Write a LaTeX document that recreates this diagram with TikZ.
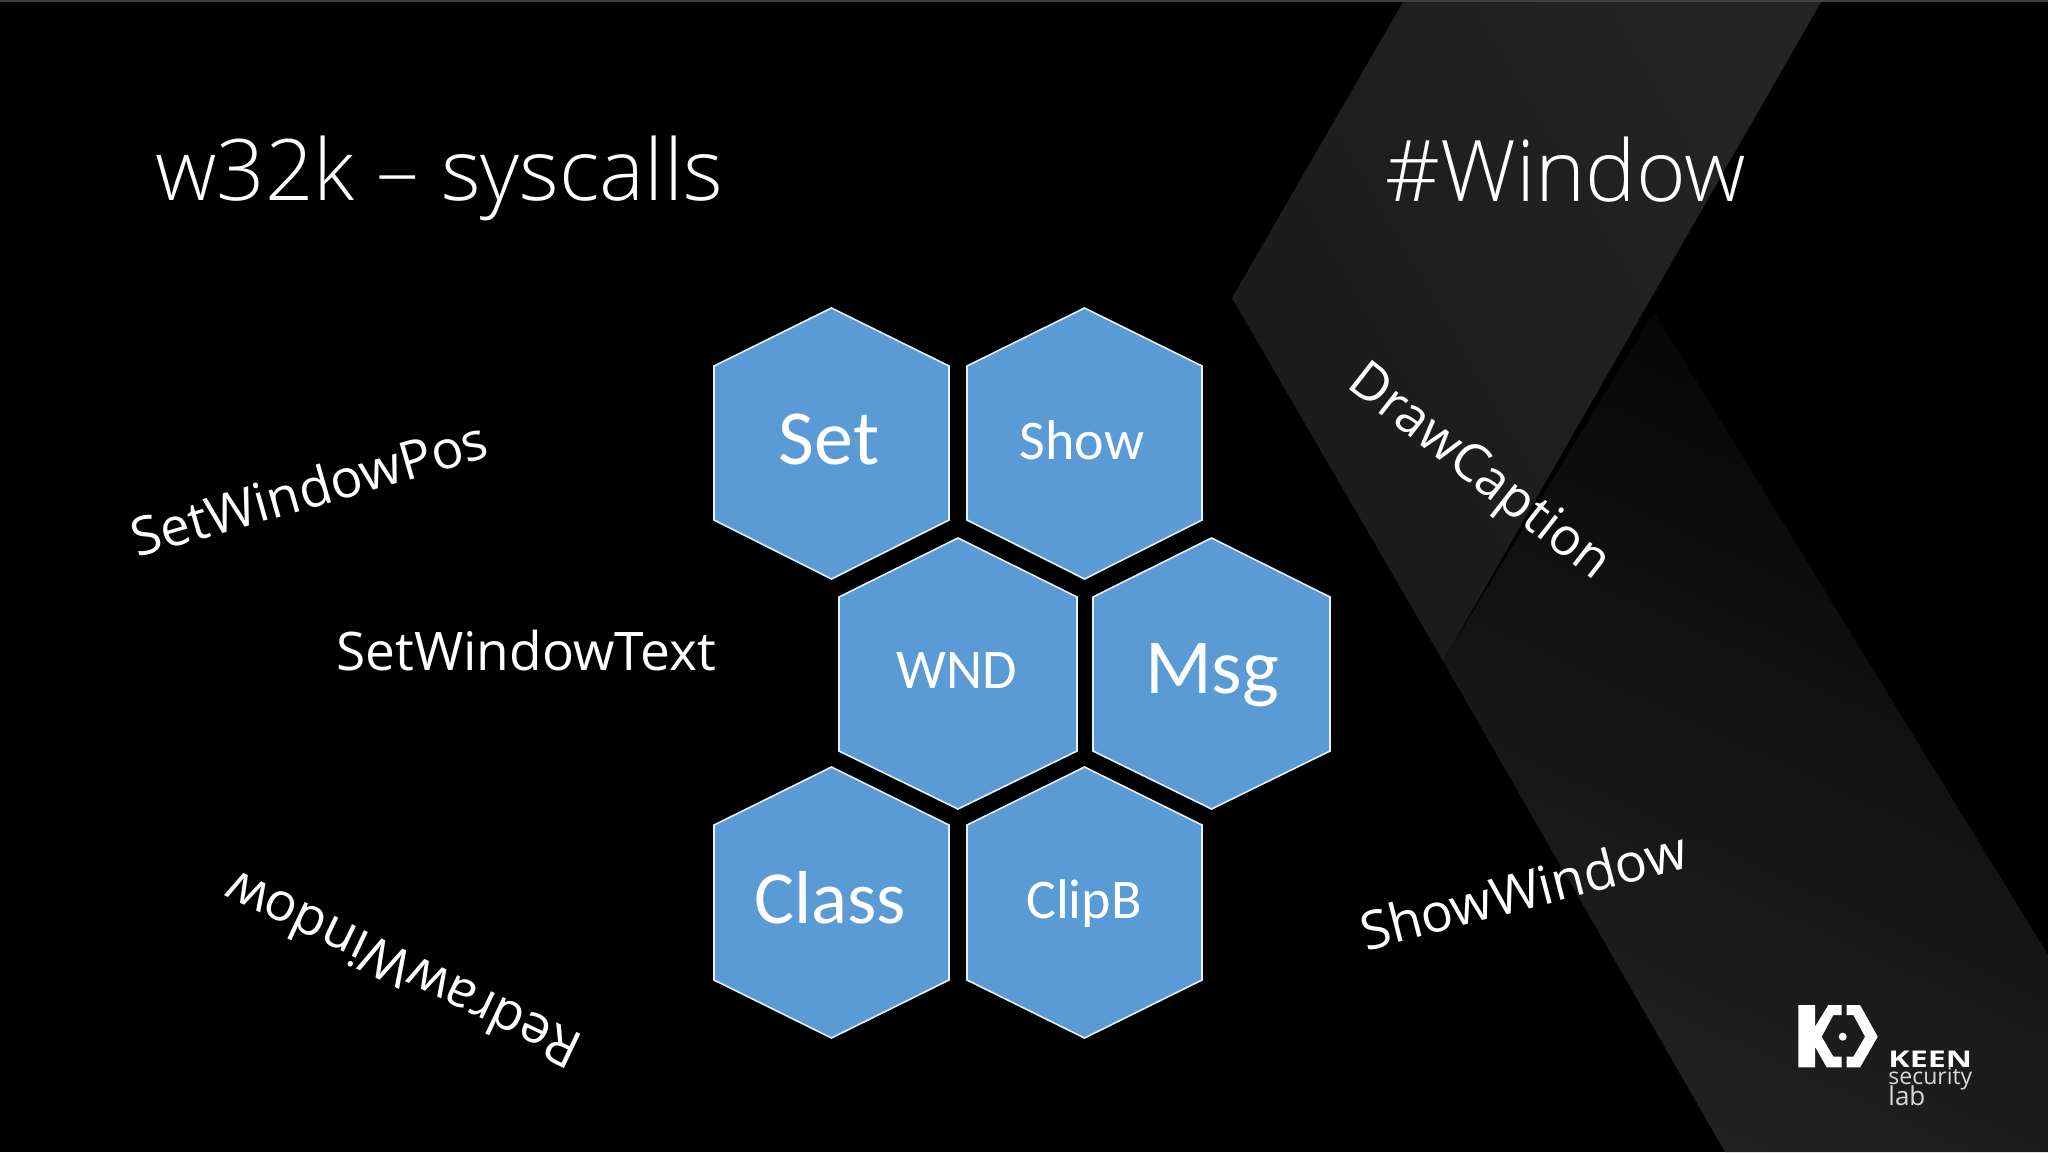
\documentclass[tikz,border=0pt]{standalone}
\usepackage{fontspec}
\setmainfont{Open Sans}
\newfontfamily\hexfont{Carlito}
\newfontfamily\titlefont[UprightFont=* Light]{Open Sans}
\newfontfamily\logofont[UprightFont=* Bold,FakeStretch=1.4]{Open Sans}
\definecolor{hexblue}{HTML}{5B9BD5}
\tikzset{
  x=0.5pt,y=-0.5pt,
  hexcell/.style={fill=hexblue,draw=white!85!hexblue,line width=0.8pt,line join=miter},
  hexlabel/.style={inner sep=0pt,anchor=base,text=white,font=\hexfont},
  bigtext/.style={hexlabel,font=\hexfont\fontsize{39}{39}\selectfont},
  classtext/.style={hexlabel,font=\hexfont\fontsize{37.5}{37.5}\selectfont},
  smalltext/.style={hexlabel,font=\hexfont\fontsize{28}{28}\selectfont},
  sidetext/.style={inner sep=0pt,text=white,font=\fontsize{26.6}{26.6}\selectfont},
  titletext/.style={inner sep=0pt,text=white,font=\titlefont\fontsize{42.5}{42.5}\selectfont},
}
\newcommand{\hexat}[7]{% name, left, right, top, shoulder1, shoulder2, bottom
  \path[hexcell] ({(#2+#3)/2},#4) -- (#3,#5) -- (#3,#6) -- ({(#2+#3)/2},#7) -- (#2,#6) -- (#2,#5) -- cycle;
}
\begin{document}
\begin{tikzpicture}
\useasboundingbox (0,0) rectangle (2048,1152);
\fill[black] (0,0) rectangle (2048,1152);
\fill[black!75] (0,0) rectangle (2048,2);
% background chevron
\shade[left color=black!90,right color=black!86,shading angle=120]
  (1403,2) -- (1821,2) -- (1443,661) -- (1232,298) -- cycle;
\shade[top color=black!98,middle color=black!90,bottom color=black!87,shading angle=-25]
  (1443,661) -- (1654,312) -- (2048,955) -- (2048,1152) -- (1725,1152) -- cycle;
% hexagons
\hexat{set}{714}{949}{308}{366}{520}{579}
\hexat{show}{967}{1202}{308}{366}{520}{579}
\hexat{wnd}{839}{1077}{538}{597}{751}{809}
\hexat{msg}{1093}{1330}{538}{597}{751}{809}
\hexat{class}{714}{949}{767}{825}{980}{1038}
\hexat{clipb}{967}{1202}{767}{825}{980}{1038}
\node[bigtext] (set) at (829,464) {Set};
\node[smalltext] (show) at (1082,459) {Show};
\node[smalltext] (wnd) at (957,688) {WND};
\node[bigtext] (msg) at (1212,693) {Msg};
\node[classtext] (class) at (830,923) {Class};
\node[smalltext] (clipb) at (1084,918) {ClipB};
% titles
\node[titletext] (title) at (439,178) {w32k – syscalls};
\node[titletext] (tag) at (1566,170) {\#Window};
% side labels
\node[sidetext,rotate=16] (swp) at (309,488) {SetWindowPos};
\node[sidetext] (swt) at (526,651) {SetWindowText};
\node[sidetext,rotate=154.5] (rw) at (402,971) {RedrawWindow};
\node[sidetext,rotate=-38,scale=0.98] (dc) at (1478,474) {DrawCaption};
\node[sidetext,rotate=14.5] (sw) at (1523,890) {ShowWindow};
% logo
\begin{scope}[shift={(1750,980)},x=0.1667pt,y=-0.1667pt]
\fill[white] (145,75) -- (195,75) -- (195,140) -- (235,75) -- (275,75) -- (275,105) -- (250,105) -- (215,170) -- (250,230) -- (275,230) -- (275,262) -- (230,262) -- (195,200) -- (195,262) -- (145,262) -- cycle;
\fill[white] (290,75) -- (330,75) -- (383,170) -- (330,262) -- (290,262) -- (290,230) -- (310,230) -- (345,170) -- (310,105) -- (290,105) -- cycle;
\fill[white] (278,170) circle[radius=12];
\end{scope}
\node[inner sep=0pt,anchor=base west,text=white,font=\logofont\fontsize{11.5}{11.5}\selectfont] (keen) at (1888,1067) {KEEN};
\node[inner sep=0pt,anchor=base west,text=white!85!black,font=\fontsize{11.5}{11.5}\selectfont] (sec) at (1888,1084) {security};
\node[inner sep=0pt,anchor=base west,text=white!85!black,font=\fontsize{13}{13}\selectfont] (lab) at (1888,1105) {lab};
\end{tikzpicture}
\end{document}
